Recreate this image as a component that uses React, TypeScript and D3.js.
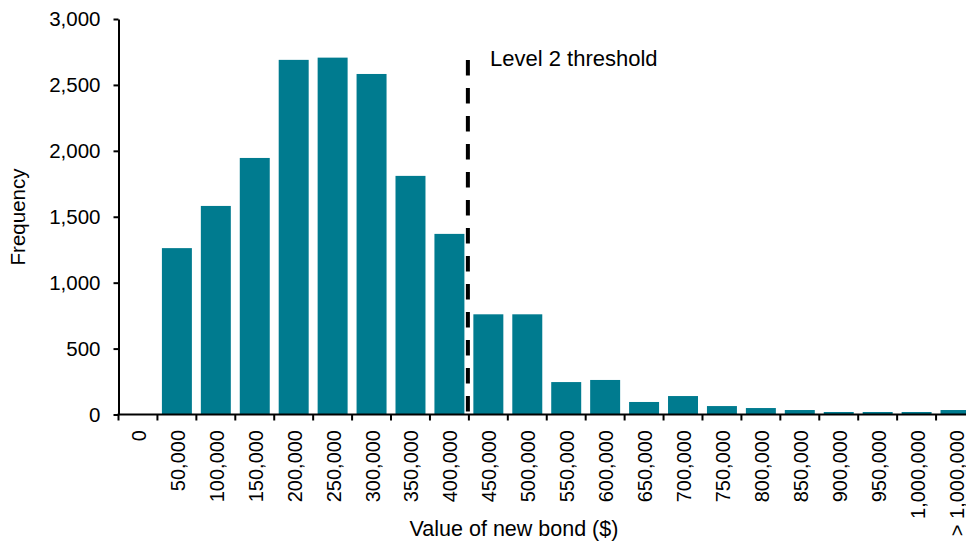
import React, { useEffect, useRef } from "react";
import * as d3 from "d3";

const categories = [
  "0", "50,000", "100,000", "150,000", "200,000", "250,000", "300,000", "350,000",
  "400,000", "450,000", "500,000", "550,000", "600,000", "650,000", "700,000",
  "750,000", "800,000", "850,000", "900,000", "950,000", "1,000,000", "> 1,000,000",
];
const frequency = [
  0, 1262, 1582, 1946, 2690, 2707, 2583, 1810, 1370, 760, 760, 246, 262, 95, 140,
  64, 49, 34, 19, 19, 19, 34,
];
const yTicks = [0, 500, 1000, 1500, 2000, 2500, 3000];
const thresholdAfter = "400,000";
const thresholdLabel = "Level 2 threshold";
const xTitle = "Value of new bond ($)";
const yTitle = "Frequency";

const W = 966;
const H = 543;
const FONT = "'Liberation Sans', Arial, sans-serif";
const BAR = "#007B8F";

export default function App() {
  const ref = useRef<SVGSVGElement>(null);

  useEffect(() => {
    const svg = d3.select(ref.current);
    svg.selectAll("*").remove();

    const left = 118.5;
    const right = 975;
    const top = 19;
    const bottom = 414.5;
    const pad = 0.23;

    const x = d3.scaleBand<string>().domain(categories).range([left, right])
      .paddingInner(pad).paddingOuter(pad / 2);
    const y = d3.scaleLinear().domain([0, 3000]).range([bottom, top]);
    const step = x.step();
    const boundary = (c: string) => (x(c) as number) - (step * pad) / 2;

    // bars
    svg.append("g").selectAll("rect").data(categories).join("rect")
      .attr("x", (c) => x(c) as number)
      .attr("width", x.bandwidth())
      .attr("y", (_, i) => y(frequency[i]))
      .attr("height", (_, i) => bottom - y(frequency[i]))
      .attr("fill", BAR);

    // y axis
    const ya = svg.append("g").attr("transform", `translate(${left},0)`)
      .call(d3.axisLeft(y).tickValues(yTicks).tickFormat(d3.format(",") as any)
        .tickSize(5).tickSizeOuter(0).tickPadding(13));
    ya.select(".domain").attr("stroke", "#000").attr("stroke-width", 2);
    ya.selectAll(".tick line").attr("stroke", "#000").attr("stroke-width", 2);
    ya.selectAll(".tick text").attr("font-family", FONT).attr("font-size", 20.5).attr("fill", "#000");

    // x axis
    const bounds = categories.map((c) => boundary(c)).concat([right]);
    svg.append("line").attr("x1", left - 1).attr("x2", right).attr("y1", bottom).attr("y2", bottom)
      .attr("stroke", "#000").attr("stroke-width", 2);
    svg.append("g").selectAll("line").data(bounds).join("line")
      .attr("x1", (d) => d).attr("x2", (d) => d)
      .attr("y1", bottom).attr("y2", bottom + 6)
      .attr("stroke", "#000").attr("stroke-width", 2);
    svg.append("g").selectAll("text").data(categories).join("text")
      .attr("transform", (c) => `translate(${(x(c) as number) + x.bandwidth() / 2 + 1},430) rotate(-90)`)
      .attr("text-anchor", "end").attr("dy", "0.35em")
      .attr("font-family", FONT).attr("font-size", 20).attr("fill", "#000")
      .text((c) => c);

    // threshold line
    const tx = boundary(categories[categories.indexOf(thresholdAfter) + 1]) - 1;
    svg.append("line").attr("x1", tx).attr("x2", tx).attr("y1", 60).attr("y2", bottom - 2)
      .attr("stroke", "#000").attr("stroke-width", 4).attr("stroke-dasharray", "15.5 12.5");
    svg.append("text").attr("x", 490).attr("y", 66)
      .attr("font-family", FONT).attr("font-size", 22).attr("fill", "#000")
      .text(thresholdLabel);

    // titles
    svg.append("text").attr("x", 514).attr("y", 536).attr("text-anchor", "middle")
      .attr("font-family", FONT).attr("font-size", 21.5).attr("fill", "#000")
      .text(xTitle);
    svg.append("text").attr("transform", "translate(25,217) rotate(-90)").attr("text-anchor", "middle")
      .attr("font-family", FONT).attr("font-size", 20.5).attr("fill", "#000")
      .text(yTitle);
  }, []);

  return (
    <svg ref={ref} width={W} height={H}
      style={{ position: "absolute", left: 0, top: 0, background: "#fff" }} />
  );
}
